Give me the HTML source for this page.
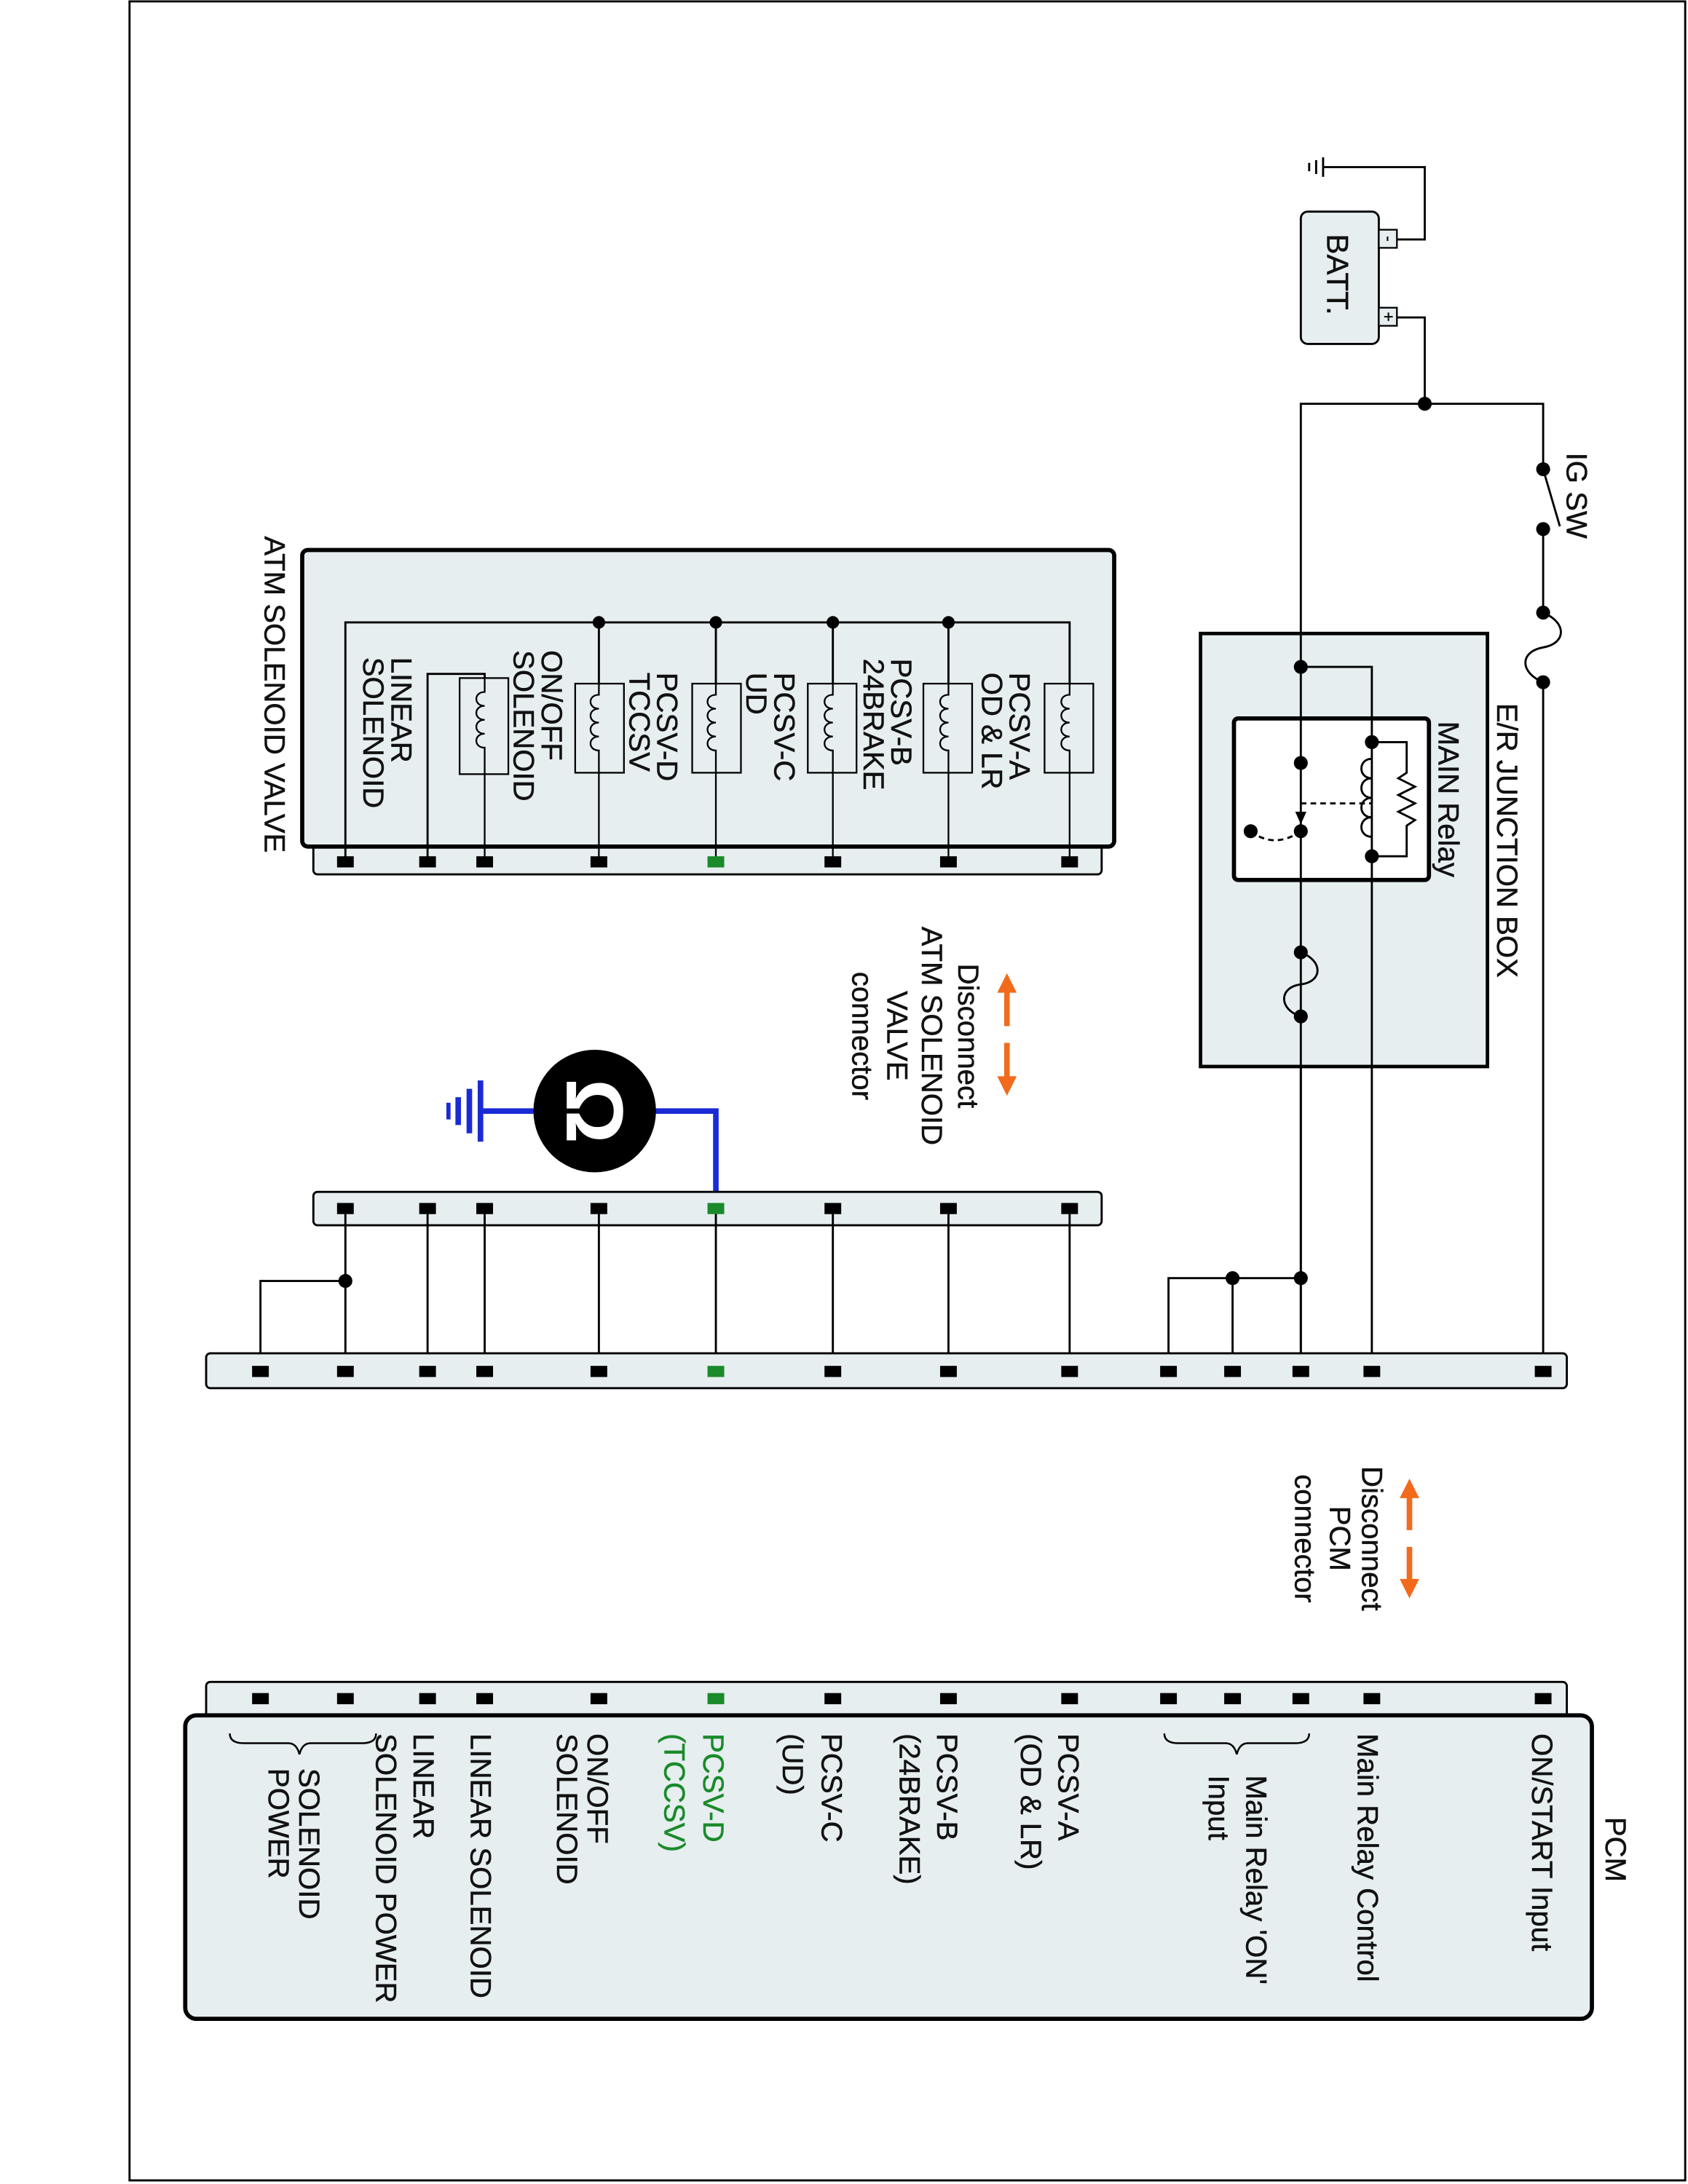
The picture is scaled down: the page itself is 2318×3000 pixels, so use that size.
<!DOCTYPE html>
<html><head><meta charset="utf-8">
<style>
html,body{margin:0;padding:0;background:#fff;}
svg{display:block;}
text{font-family:"Liberation Sans",Arial,sans-serif;font-size:21px;fill:#111;stroke:#111;stroke-width:0.25;}
</style></head>
<body>
<svg width="2318" height="3000" viewBox="0 0 1212 1568.6" xmlns="http://www.w3.org/2000/svg">
<rect x="0" y="0" width="1212" height="1569" fill="#fff"/>
<rect x="93" y="1" width="1117" height="1565" fill="none" stroke="#000" stroke-width="1.5"/>

<!-- Battery -->
<rect x="934" y="152" width="56" height="95" rx="5" fill="#e6eef0" stroke="#000" stroke-width="1.5"/>
<rect x="990" y="165" width="13" height="13" fill="#e6eef0" stroke="#000" stroke-width="1.2"/>
<rect x="990" y="221" width="13" height="13" fill="#e6eef0" stroke="#000" stroke-width="1.2"/>
<text x="996.5" y="175" text-anchor="middle" transform="rotate(90 996.5 171.5)" style="font-size:12px">-</text>
<text x="996.5" y="231" text-anchor="middle" transform="rotate(90 996.5 227.5)" style="font-size:12px">+</text>
<text transform="translate(953,168) rotate(90)" style="font-size:22px">BATT.</text>
<g stroke="#000" stroke-width="1.5" fill="none">
<polyline points="1003,172 1023,172 1023,120 950,120"/>
<line x1="950" y1="113" x2="950" y2="127"/>
<line x1="945" y1="115" x2="945" y2="125"/>
<line x1="940" y1="117" x2="940" y2="123"/>
<polyline points="1003,228 1023,228 1023,290"/>
<polyline points="934,985 934,290 1108,290 1108,337"/>
<line x1="1108" y1="337" x2="1120" y2="378"/>
<line x1="1108" y1="380" x2="1108" y2="440"/>
<path d="M1108,440 C1125,447 1125,462 1108,465 C1091,468 1091,483 1108,490"/>
<line x1="1108" y1="490" x2="1108" y2="985"/>
</g>
<circle cx="1023" cy="290" r="5"/>
<circle cx="1108" cy="337" r="5"/>
<circle cx="1108" cy="380" r="5"/>
<circle cx="1108" cy="440" r="5"/>
<circle cx="1108" cy="490" r="5"/>
<text transform="translate(1125,325) rotate(90)">IG SW</text>

<!-- Junction box -->
<rect x="862" y="455" width="206" height="311" fill="#e6eef0" stroke="#000" stroke-width="2.5"/>
<text transform="translate(1075,505) rotate(90)">E/R JUNCTION BOX</text>
<rect x="886" y="516" width="140" height="116" rx="3" fill="#fff" stroke="#000" stroke-width="3"/>
<text transform="translate(1033,518) rotate(90)">MAIN Relay</text>
<g stroke="#000" stroke-width="1.5" fill="none">
<line x1="934" y1="455" x2="934" y2="985"/>
<polyline points="934,479 985,479 985,985"/>
<path d="M985,545 c-10,0 -10,14 0,14 c-10,0 -10,14 0,14 c-10,0 -10,14 0,14 c-10,0 -10,14 0,14"/>
<polyline points="985,533 1010,533 1010,555 1004,559 1016,565 1004,571 1016,577 1004,583 1016,589 1010,593 1010,615 985,615"/>
<line x1="934" y1="577" x2="985" y2="577" stroke-dasharray="4,3"/>
<path d="M898,597 Q915,610 934,597" stroke-dasharray="4,3"/>
<path d="M934,684 C950,690 950,705 934,707 C918,709 918,725 934,730"/>
</g>
<polygon points="930,583 938,583 934,592"/>
<circle cx="934" cy="479" r="5"/>
<circle cx="934" cy="548" r="5"/>
<circle cx="934" cy="597" r="5"/>
<circle cx="898" cy="597" r="5"/>
<circle cx="985" cy="533" r="5"/>
<circle cx="985" cy="615" r="5"/>
<circle cx="934" cy="684" r="5"/>
<circle cx="934" cy="730" r="5"/>
<circle cx="934" cy="918" r="5"/>
<circle cx="885" cy="918" r="5"/>

<!-- ATM solenoid valve -->
<rect x="225" y="600" width="566" height="28" rx="3" fill="#e6eef0" stroke="#000" stroke-width="1.5"/>
<rect x="217" y="395" width="583" height="213" rx="4" fill="#e6eef0" stroke="#000" stroke-width="3"/>
<text transform="translate(190,385) rotate(90)">ATM SOLENOID VALVE</text>
<g stroke="#000" stroke-width="1.5" fill="none">
<polyline points="248,619 248,447 768,447 768,491"/>
<line x1="681" y1="447" x2="681" y2="491"/>
<line x1="598" y1="447" x2="598" y2="491"/>
<line x1="514" y1="447" x2="514" y2="491"/>
<line x1="430" y1="447" x2="430" y2="491"/>
<polyline points="307,619 307,484 348,484 348,491"/>
<g stroke-width="1.2" fill="#e6eef0">
<rect x="750" y="491" width="35" height="64"/>
<rect x="663" y="491" width="35" height="64"/>
<rect x="580" y="491" width="35" height="64"/>
<rect x="497" y="491" width="35" height="64"/>
<rect x="413" y="491" width="35" height="64"/>
<rect x="330" y="487" width="35" height="69"/>
</g>
<g stroke-width="1.2">
<path d="M768,491 v8 c-8,0 -8,10 0,10 c-8,0 -8,10 0,10 c-8,0 -8,10 0,10 c-8,0 -8,10 0,10 v6 V619"/>
<path d="M681,491 v8 c-8,0 -8,10 0,10 c-8,0 -8,10 0,10 c-8,0 -8,10 0,10 c-8,0 -8,10 0,10 v6 V619"/>
<path d="M598,491 v8 c-8,0 -8,10 0,10 c-8,0 -8,10 0,10 c-8,0 -8,10 0,10 c-8,0 -8,10 0,10 v6 V619"/>
<path d="M514,491 v8 c-8,0 -8,10 0,10 c-8,0 -8,10 0,10 c-8,0 -8,10 0,10 c-8,0 -8,10 0,10 v6 V619"/>
<path d="M430,491 v8 c-8,0 -8,10 0,10 c-8,0 -8,10 0,10 c-8,0 -8,10 0,10 c-8,0 -8,10 0,10 v6 V619"/>
<path d="M348,487 v10 c-8,0 -8,10 0,10 c-8,0 -8,10 0,10 c-8,0 -8,10 0,10 c-8,0 -8,10 0,10 v8 V619"/>
</g>
</g>
<circle cx="430" cy="447" r="4.5"/><circle cx="514" cy="447" r="4.5"/><circle cx="598" cy="447" r="4.5"/><circle cx="681" cy="447" r="4.5"/>
<text transform="translate(725,483) rotate(90)">PCSV-A</text>
<text transform="translate(705,483) rotate(90)">OD &amp; LR</text>
<text transform="translate(640,473) rotate(90)">PCSV-B</text>
<text transform="translate(620,473) rotate(90)">24BRAKE</text>
<text transform="translate(556,483) rotate(90)">PCSV-C</text>
<text transform="translate(536,483) rotate(90)">UD</text>
<text transform="translate(472,483) rotate(90)">PCSV-D</text>
<text transform="translate(452,483) rotate(90)">TCCSV</text>
<text transform="translate(389,467) rotate(90)">ON/OFF</text>
<text transform="translate(369,467) rotate(90)">SOLENOID</text>
<text transform="translate(281,472) rotate(90)">LINEAR</text>
<text transform="translate(261,472) rotate(90)">SOLENOID</text>
<g>
<rect x="242" y="615" width="12" height="8"/><rect x="301" y="615" width="12" height="8"/><rect x="342" y="615" width="12" height="8"/><rect x="424" y="615" width="12" height="8"/><rect x="508" y="615" width="12" height="8" fill="#1a8a2a"/><rect x="592" y="615" width="12" height="8"/><rect x="675" y="615" width="12" height="8"/><rect x="762" y="615" width="12" height="8"/>
</g>

<!-- Disconnect ATM -->
<text text-anchor="middle" transform="translate(688,744) rotate(90)">Disconnect</text>
<text text-anchor="middle" transform="translate(662,744) rotate(90)">ATM SOLENOID</text>
<text text-anchor="middle" transform="translate(637,744) rotate(90)">VALVE</text>
<text text-anchor="middle" transform="translate(612,744) rotate(90)">connector</text>
<g fill="#f26b1d" stroke="#f26b1d">
<polygon points="716,713 730,713 723,699" stroke="none"/>
<line x1="723" y1="712" x2="723" y2="737" stroke-width="4"/>
<line x1="723" y1="749" x2="723" y2="774" stroke-width="4"/>
<polygon points="716,773 730,773 723,787" stroke="none"/>
</g>

<!-- Omega / ground -->
<g stroke="#1a2bd6" stroke-width="4" fill="none">
<polyline points="514,868 514,798 470,798"/>
<line x1="383" y1="798" x2="345" y2="798"/>
<line x1="345" y1="776" x2="345" y2="820"/>
<line x1="337" y1="782" x2="337" y2="814"/>
<line x1="329" y1="788" x2="329" y2="808"/>
<line x1="322" y1="792" x2="322" y2="804" stroke-width="3"/>
</g>
<circle cx="427" cy="798" r="44" fill="#000"/>
<text text-anchor="middle" transform="translate(407,798) rotate(90)" style="font-size:58px;fill:#fff;stroke:#fff;font-weight:bold">Ω</text>

<!-- Middle connector -->
<rect x="225" y="856" width="566" height="24" rx="3" fill="#e6eef0" stroke="#000" stroke-width="1.5"/>
<g stroke="#000" stroke-width="1.5" fill="none">
<line x1="248" y1="868" x2="248" y2="985"/><line x1="307" y1="868" x2="307" y2="985"/><line x1="348" y1="868" x2="348" y2="985"/><line x1="430" y1="868" x2="430" y2="985"/><line x1="514" y1="868" x2="514" y2="985"/><line x1="598" y1="868" x2="598" y2="985"/><line x1="681" y1="868" x2="681" y2="985"/><line x1="768" y1="868" x2="768" y2="985"/>
<polyline points="187,985 187,920 248,920"/>
<polyline points="839,985 839,918 934,918"/>
<line x1="885" y1="918" x2="885" y2="985"/>
</g>
<circle cx="248" cy="920" r="5"/>
<g>
<rect x="242" y="864" width="12" height="8"/><rect x="301" y="864" width="12" height="8"/><rect x="342" y="864" width="12" height="8"/><rect x="424" y="864" width="12" height="8"/><rect x="508" y="864" width="12" height="8" fill="#1a8a2a"/><rect x="592" y="864" width="12" height="8"/><rect x="675" y="864" width="12" height="8"/><rect x="762" y="864" width="12" height="8"/>
</g>

<!-- Main connector -->
<rect x="148" y="972" width="977" height="25" rx="3" fill="#e6eef0" stroke="#000" stroke-width="1.5"/>
<g>
<rect x="181" y="981" width="12" height="8"/><rect x="242" y="981" width="12" height="8"/><rect x="301" y="981" width="12" height="8"/><rect x="342" y="981" width="12" height="8"/><rect x="424" y="981" width="12" height="8"/><rect x="508" y="981" width="12" height="8" fill="#1a8a2a"/><rect x="592" y="981" width="12" height="8"/><rect x="675" y="981" width="12" height="8"/><rect x="762" y="981" width="12" height="8"/><rect x="833" y="981" width="12" height="8"/><rect x="879" y="981" width="12" height="8"/><rect x="928" y="981" width="12" height="8"/><rect x="979" y="981" width="12" height="8"/><rect x="1102" y="981" width="12" height="8"/>
</g>

<!-- Disconnect PCM -->
<text text-anchor="middle" transform="translate(978,1105) rotate(90)">Disconnect</text>
<text text-anchor="middle" transform="translate(955,1105) rotate(90)">PCM</text>
<text text-anchor="middle" transform="translate(930,1105) rotate(90)">connector</text>
<g fill="#f26b1d" stroke="#f26b1d">
<polygon points="1005,1076 1019,1076 1012,1062" stroke="none"/>
<line x1="1012" y1="1075" x2="1012" y2="1099" stroke-width="4"/>
<line x1="1012" y1="1111" x2="1012" y2="1135" stroke-width="4"/>
<polygon points="1005,1134 1019,1134 1012,1148" stroke="none"/>
</g>

<!-- PCM -->
<rect x="148" y="1208" width="977" height="30" rx="3" fill="#e6eef0" stroke="#000" stroke-width="1.5"/>
<rect x="133" y="1232" width="1010" height="218" rx="8" fill="#e6eef0" stroke="#000" stroke-width="3"/>
<g>
<rect x="181" y="1216" width="12" height="8"/><rect x="242" y="1216" width="12" height="8"/><rect x="301" y="1216" width="12" height="8"/><rect x="342" y="1216" width="12" height="8"/><rect x="424" y="1216" width="12" height="8"/><rect x="508" y="1216" width="12" height="8" fill="#1a8a2a"/><rect x="592" y="1216" width="12" height="8"/><rect x="675" y="1216" width="12" height="8"/><rect x="762" y="1216" width="12" height="8"/><rect x="833" y="1216" width="12" height="8"/><rect x="879" y="1216" width="12" height="8"/><rect x="928" y="1216" width="12" height="8"/><rect x="979" y="1216" width="12" height="8"/><rect x="1102" y="1216" width="12" height="8"/>
</g>
<text transform="translate(1153,1305) rotate(90)">PCM</text>
<text transform="translate(1100,1245) rotate(90)">ON/START Input</text>
<text transform="translate(975,1245) rotate(90)">Main Relay Control</text>
<text transform="translate(895,1275) rotate(90)">Main Relay 'ON'</text>
<text transform="translate(868,1275) rotate(90)">Input</text>
<text transform="translate(760,1245) rotate(90)">PCSV-A</text>
<text transform="translate(733,1245) rotate(90)">(OD &amp; LR)</text>
<text transform="translate(673,1245) rotate(90)">PCSV-B</text>
<text transform="translate(646,1245) rotate(90)">(24BRAKE)</text>
<text transform="translate(590,1245) rotate(90)">PCSV-C</text>
<text transform="translate(562,1245) rotate(90)">(UD)</text>
<text transform="translate(505,1245) rotate(90)" style="fill:#1a8a2a;stroke:#1a8a2a">PCSV-D</text>
<text transform="translate(477,1245) rotate(90)" style="fill:#1a8a2a;stroke:#1a8a2a">(TCCSV)</text>
<text transform="translate(422,1245) rotate(90)">ON/OFF</text>
<text transform="translate(400,1245) rotate(90)">SOLENOID</text>
<text transform="translate(338,1245) rotate(90)">LINEAR SOLENOID</text>
<text transform="translate(297,1245) rotate(90)">LINEAR</text>
<text transform="translate(270,1245) rotate(90)">SOLENOID POWER</text>
<text transform="translate(215,1270) rotate(90)">SOLENOID</text>
<text transform="translate(193,1270) rotate(90)">POWER</text>
<g stroke="#000" stroke-width="1.3" fill="none">
<path d="M836,1245 Q836,1252 846,1252 L880,1252 Q886,1252 888,1260 Q890,1252 896,1252 L930,1252 Q940,1252 940,1245"/>
<path d="M165,1245 Q165,1252 175,1252 L207,1252 Q213,1252 215,1260 Q217,1252 223,1252 L260,1252 Q270,1252 270,1245"/>
</g>
</svg>
</body></html>
